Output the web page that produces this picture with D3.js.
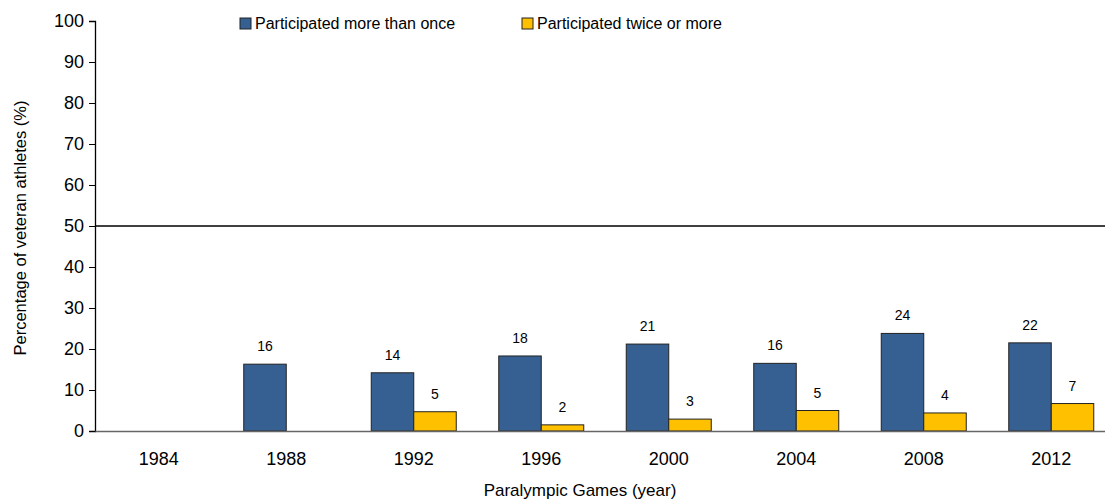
<!DOCTYPE html>
<html lang="en">
<head>
<meta charset="UTF-8">
<title>Veteran athletes</title>
<script src="https://d3js.org/d3.v7.min.js"></script>
<style>
  body { margin: 0; background: #fff; }
  svg text { font-family: "Liberation Sans", Arial, sans-serif; fill: #000; }
</style>
</head>
<body>
<svg id="chart" width="1105" height="501"></svg>
<script>
// data
var years = ["1984", "1988", "1992", "1996", "2000", "2004", "2008", "2012"];
var moreThanOnce = [null, 16.3, 14.2, 18.3, 21.2, 16.5, 23.8, 21.5];
var twiceOrMore = [null, null, 4.7, 1.5, 2.9, 5.0, 4.4, 6.7];
var labelsMore = ["", "16", "14", "18", "21", "16", "24", "22"];
var labelsTwice = ["", "", "5", "2", "3", "5", "4", "7"];
var seriesNames = ["Participated more than once", "Participated twice or more"];
var seriesColors = ["#366092", "#FFC000"];
var yTicks = [0, 10, 20, 30, 40, 50, 60, 70, 80, 90, 100];

var svg = d3.select("#chart");

// plot area runs a bit past the right edge, like the original
var plotLeft = 95, plotRight = 1115, plotTop = 21, plotBottom = 431;

var x0 = d3.scaleBand().domain(years).range([plotLeft, plotRight]).padding(0);
var bw = x0.bandwidth();
var x1 = d3.scaleBand().domain([0, 1]).range([bw / 6, bw * 5 / 6]).padding(0);
var y = d3.scaleLinear().domain([0, 100]).range([plotBottom, plotTop]);

var rows = years.map(function (yr, i) {
    return {year: yr, vals: [
        {s: 0, v: moreThanOnce[i], lab: labelsMore[i]},
        {s: 1, v: twiceOrMore[i], lab: labelsTwice[i]}
    ]};
});

// y axis
var yAxis = d3.axisLeft(y).tickValues(yTicks).tickSize(6).tickPadding(5);
var gy = svg.append("g").attr("transform", "translate(" + plotLeft + ",0)").call(yAxis);
gy.select(".domain").attr("stroke", "#000").attr("stroke-width", 1.3);
gy.selectAll(".tick line").attr("stroke", "#000");
gy.selectAll(".tick text").style("font-size", "18px");

// reference line at 50
svg.append("line")
    .attr("x1", plotLeft).attr("x2", plotRight)
    .attr("y1", y(50)).attr("y2", y(50))
    .attr("stroke", "#000").attr("stroke-width", 1.5);

// bars
var grp = svg.selectAll("g.year").data(rows).enter().append("g")
    .attr("class", "year")
    .attr("transform", function (d) { return "translate(" + x0(d.year) + ",0)"; });

var withVal = function (d) { return d.vals.filter(function (e) { return e.v != null; }); };

grp.selectAll("rect").data(withVal).enter().append("rect")
    .attr("x", function (d) { return x1(d.s); })
    .attr("y", function (d) { return y(d.v); })
    .attr("width", x1.bandwidth())
    .attr("height", function (d) { return y(0) - y(d.v); })
    .attr("fill", function (d) { return seriesColors[d.s]; })
    .attr("stroke", "#222")
    .attr("stroke-width", 1);

grp.selectAll("text.lab").data(withVal).enter().append("text")
    .attr("class", "lab")
    .attr("x", function (d) { return x1(d.s) + x1.bandwidth() / 2; })
    .attr("y", function (d) { return y(d.v) - 13; })
    .attr("text-anchor", "middle")
    .style("font-size", "14px")
    .text(function (d) { return d.lab; });

// x axis
var xAxis = d3.axisBottom(x0).tickSize(0).tickPadding(21);
var gx = svg.append("g").attr("transform", "translate(0," + plotBottom + ")").call(xAxis);
gx.select(".domain").attr("stroke", "#666").attr("stroke-width", 1.3);
gx.selectAll(".tick text").style("font-size", "18px");

// axis titles
svg.append("text")
    .attr("x", 580).attr("y", 496)
    .attr("text-anchor", "middle")
    .style("font-size", "17px")
    .text("Paralympic Games (year)");

svg.append("text")
    .attr("transform", "translate(26," + (y(50) + 2) + ") rotate(-90)")
    .attr("text-anchor", "middle")
    .style("font-size", "16.5px")
    .text("Percentage of veteran athletes (%)");

// legend
var legX = [240, 522];
var leg = svg.selectAll("g.leg").data(seriesNames).enter().append("g")
    .attr("class", "leg")
    .attr("transform", function (d, i) { return "translate(" + legX[i] + ",18)"; });
leg.append("rect")
    .attr("width", 11).attr("height", 11)
    .attr("fill", function (d, i) { return seriesColors[i]; })
    .attr("stroke", "#222");
leg.append("text")
    .attr("x", 15).attr("y", 11)
    .style("font-size", "16px")
    .text(function (d) { return d; });
</script>
</body>
</html>
